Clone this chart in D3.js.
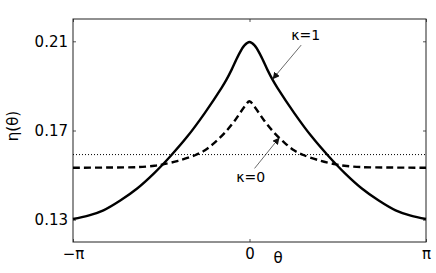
<!DOCTYPE html>
<html>
    <head>
        <meta charset="utf-8">
        <script src="https://d3js.org/d3.v7.min.js"></script>
        <style>
            body { margin: 0; background: white; }
            text { font-family: "DejaVu Sans", sans-serif; fill: black; }
        </style>
    </head>
    <body>
        <svg id="chart" width="436" height="273"></svg>
    </body>
    <script>
        const PI = Math.PI;

        // kappa = 1 (solid)
        const thetaK1 = [-PI, -2.87, -2.60, -2.30, -2.00, -1.70, -1.40, -1.10, -0.80, -0.50, -0.41, -0.32, -0.20, -0.09, 0,
                          0.09, 0.20, 0.32, 0.41, 0.50, 0.80, 1.10, 1.40, 1.70, 2.00, 2.30, 2.60, 2.87, PI];
        const etaK1 = [0.1303, 0.1318, 0.1342, 0.1386, 0.1440, 0.1508, 0.1587, 0.1675, 0.1777, 0.1890, 0.1928, 0.1972, 0.2036, 0.2082, 0.2097,
                       0.2082, 0.2036, 0.1972, 0.1928, 0.1890, 0.1777, 0.1675, 0.1587, 0.1508, 0.1440, 0.1386, 0.1342, 0.1318, 0.1303];

        // kappa = 0 (dashed)
        const thetaK0 = [-PI, -2.5, -1.98, -1.69, -1.54, -1.27, -0.97, -0.80, -0.62, -0.44, -0.26, -0.08, 0,
                          0.08, 0.26, 0.44, 0.62, 0.80, 0.97, 1.27, 1.54, 1.69, 1.98, 2.5, PI];
        const etaK0 = [0.1533, 0.1534, 0.1536, 0.1542, 0.1548, 0.1564, 0.1589, 0.1610, 0.1646, 0.1690, 0.1745, 0.1810, 0.1831,
                       0.1810, 0.1745, 0.1690, 0.1646, 0.1610, 0.1589, 0.1564, 0.1548, 0.1542, 0.1536, 0.1534, 0.1533];

        // uniform level (dotted)
        const thetaUniform = [-PI, PI];
        const etaUniform = [0.1592, 0.1592];

        const xTicks = [-PI, 0, PI];
        const xTickLabels = ['\u2212\u03c0', '0', '\u03c0'];
        const yTicks = [0.13, 0.17, 0.21];

        // annotations: label position, arrow start, arrow tip (data units)
        const annLabels = ['\u03ba=1', '\u03ba=0'];
        const annText = [[1.0, 0.2106], [0.02, 0.1467]];
        const annFrom = [[0.92, 0.2083], [0.09, 0.1530]];
        const annTip = [[0.41, 0.1930], [0.534, 0.1669]];

        const svg = d3.select('svg#chart');
        const mLeft = 73, mRight = 426, mTop = 19, mBottom = 242;

        const x = d3.scaleLinear().domain([-PI, PI]).range([mLeft, mRight]);
        const y = d3.scaleLinear().domain([0.12, 0.22]).range([mBottom, mTop]);

        // axes with inward ticks, box style
        const fmtX = (d, i) => xTickLabels[i];
        svg.append('g').attr('transform', `translate(0,${mBottom})`)
            .call(d3.axisBottom(x).tickValues(xTicks).tickFormat(fmtX).tickSizeInner(-3).tickSizeOuter(0).tickPadding(6))
            .call(g => g.selectAll('text').attr('font-size', 15).attr('font-family', '"DejaVu Sans", sans-serif'));
        svg.append('g').attr('transform', `translate(0,${mTop})`)
            .call(d3.axisTop(x).tickValues(xTicks).tickFormat('').tickSizeInner(-3).tickSizeOuter(0));
        svg.append('g').attr('transform', `translate(${mLeft},0)`)
            .call(d3.axisLeft(y).tickValues(yTicks).tickFormat(d3.format('.2f')).tickSizeInner(-3).tickSizeOuter(0).tickPadding(5))
            .call(g => g.selectAll('text').attr('font-size', 15).attr('font-family', '"DejaVu Sans", sans-serif'));
        svg.append('g').attr('transform', `translate(${mRight},0)`)
            .call(d3.axisRight(y).tickValues(yTicks).tickFormat('').tickSizeInner(-3).tickSizeOuter(0));
        svg.selectAll('.domain').remove();
        svg.selectAll('.tick line').attr('stroke', '#555');

        svg.append('rect')
            .attr('x', mLeft).attr('y', mTop)
            .attr('width', mRight - mLeft).attr('height', mBottom - mTop)
            .attr('fill', 'none').attr('stroke', '#222').attr('stroke-width', 1);

        const line = d3.line()
            .x(d => x(d[0]))
            .y(d => y(d[1]))
            .curve(d3.curveCatmullRom.alpha(0.5));

        svg.append('path')
            .datum(d3.zip(thetaUniform, etaUniform))
            .attr('d', line)
            .attr('fill', 'none').attr('stroke', 'black')
            .attr('stroke-width', 1).attr('stroke-dasharray', '1,2');

        svg.append('path')
            .datum(d3.zip(thetaK0, etaK0))
            .attr('d', line)
            .attr('fill', 'none').attr('stroke', 'black')
            .attr('stroke-width', 2.4).attr('stroke-dasharray', '7,4');

        svg.append('path')
            .datum(d3.zip(thetaK1, etaK1))
            .attr('d', line)
            .attr('fill', 'none').attr('stroke', 'black')
            .attr('stroke-width', 2.4);

        // arrows
        svg.append('defs').append('marker')
            .attr('id', 'head')
            .attr('viewBox', '0 0 10 10')
            .attr('refX', 10).attr('refY', 5)
            .attr('markerWidth', 7).attr('markerHeight', 7)
            .attr('markerUnits', 'userSpaceOnUse')
            .attr('orient', 'auto')
            .append('path').attr('d', 'M0,0 L10,5 L0,10 z').attr('fill', '#111');

        annLabels.forEach(function(lab, i){
            svg.append('line')
                .attr('x1', x(annFrom[i][0])).attr('y1', y(annFrom[i][1]))
                .attr('x2', x(annTip[i][0])).attr('y2', y(annTip[i][1]))
                .attr('stroke', '#444').attr('stroke-width', 0.8)
                .attr('marker-end', 'url(#head)');
            svg.append('text')
                .attr('x', x(annText[i][0])).attr('y', y(annText[i][1]))
                .attr('text-anchor', 'middle')
                .attr('font-size', 14)
                .text(lab);
        });

        // axis labels
        svg.append('text')
            .attr('x', 278).attr('y', 263)
            .attr('text-anchor', 'middle')
            .attr('font-size', 15)
            .text('\u03b8');
        svg.append('text')
            .attr('transform', 'translate(18,126) rotate(-90)')
            .attr('text-anchor', 'middle')
            .attr('font-size', 15)
            .text('\u03b7(\u03b8)');
    </script>
</html>
